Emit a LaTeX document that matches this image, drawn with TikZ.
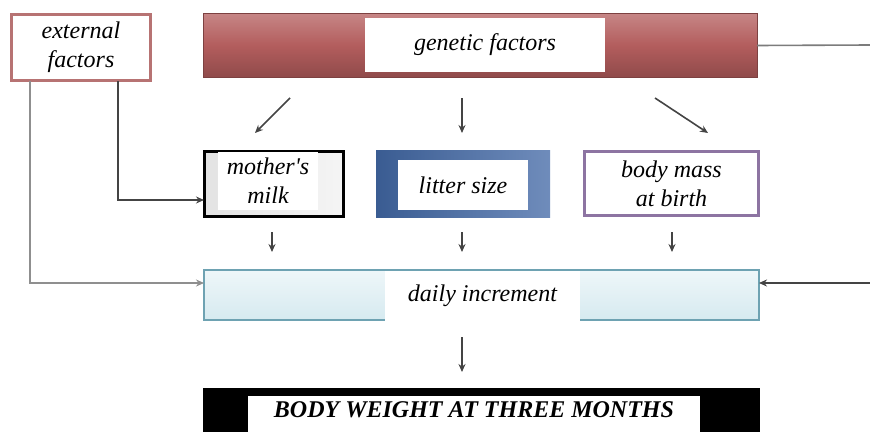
\documentclass[tikz,border=0pt]{standalone}
\usepackage{fontspec}
\setmainfont{Liberation Serif}
\usetikzlibrary{arrows.meta,positioning,calc}

\definecolor{genred}{HTML}{B35D5D}
\definecolor{extred}{HTML}{B77373}
\definecolor{litblue}{HTML}{3A5C92}
\definecolor{litbluelt}{HTML}{6F8CBB}
\definecolor{masspurple}{HTML}{8D74A2}
\definecolor{dailyteal}{HTML}{6EA2B2}
\definecolor{dailyfill}{HTML}{D6EAF0}
\definecolor{linkgray}{HTML}{444444}

\tikzset{
  factor/.style={inner sep=0pt, outer sep=0pt, align=center,
    font=\fontsize{24}{29}\selectfont\itshape},
  panel/.style={factor, fill=white},
  link/.style={draw=linkgray, line width=1.6pt,
    -{Stealth[length=8pt,width=7pt]}},
  plainlink/.style={draw=linkgray!70, line width=1.6pt}
}

\begin{document}
\begin{tikzpicture}[x=1pt,y=-1pt]
  \clip (0,0) rectangle (870,431);
  \fill[white] (0,0) rectangle (870,431);

  % top row
  \node[factor, draw=extred, line width=3.5pt, fill=white,
    minimum width=139, minimum height=66] (ext) at (81,47.5) {external\\factors};
  \node[factor, draw=genred!70!black, line width=1pt, top color=genred!75!white,
    bottom color=genred!80!black, middle color=genred,
    minimum width=554, minimum height=64] (gen) at (480,45.5) {};
  \node[panel, minimum width=240, minimum height=54] (genin) at (485,45) {genetic factors};

  % middle row
  \node[factor, draw=black, line width=3pt, left color=gray!22, right color=gray!8,
    minimum width=139, minimum height=65] (milk) at (273.5,183.5) {};
  \node[panel, minimum width=100, minimum height=58] (milkin) at (268,181) {mother\textquotesingle s\\milk};
  \node[factor, left color=litblue, right color=litbluelt,
    minimum width=174, minimum height=67] (litter) at (463,183.5) {};
  \node[panel, minimum width=130, minimum height=50] (litterin) at (463,185) {litter size};
  \node[factor, draw=masspurple, line width=3pt, fill=white,
    minimum width=174, minimum height=64] (mass) at (671.5,183.5) {body mass\\at birth};

  % daily increment
  \node[factor, draw=dailyteal, line width=2pt, top color=dailyfill!40,
    bottom color=dailyfill, minimum width=555, minimum height=50] (daily) at (481.5,294.5) {};
  \node[panel, minimum width=195, minimum height=50] (dailyin) at (482.5,296) {daily increment};

  % result
  \node[factor, fill=black, minimum width=557, minimum height=60] (weight) at (481.5,418) {};
  \node[panel, minimum width=452, minimum height=28, font=\fontsize{24}{29}\selectfont\bfseries\itshape]
    (weightin) at (474,410) {BODY WEIGHT AT THREE MONTHS};
  \fill[white] (weightin.south west) rectangle ++(452,10);

  % arrow ends
  \coordinate (ga1) at (290,98);  \coordinate (ga2) at (255,133);
  \coordinate (gb1) at (462,98);  \coordinate (gb2) at (462,133);
  \coordinate (gc1) at (655,98);  \coordinate (gc2) at (708,133);
  \coordinate (ma1) at (272,232); \coordinate (ma2) at (272,252);
  \coordinate (la1) at (462,232); \coordinate (la2) at (462,252);
  \coordinate (ba1) at (672,232); \coordinate (ba2) at (672,252);
  \coordinate (da1) at (462,337); \coordinate (da2) at (462,372);
  \coordinate (extl) at (30,81);  \coordinate (extr) at (118,81);
  \coordinate (rtop) at (870,45); \coordinate (rmid) at (870,283);

  \draw[link] (ga1) -- (ga2);
  \draw[link] (gb1) -- (gb2);
  \draw[link] (gc1) -- (gc2);
  \draw[link] (ma1) -- (ma2);
  \draw[link] (la1) -- (la2);
  \draw[link] (ba1) -- (ba2);
  \draw[link] (da1) -- (da2);

  \draw[link] (extr) |- ($(milk.west)+(0,16.5)$);
  \draw[link, draw=linkgray!60] (extl) |- ($(daily.west)+(0,-11.5)$);
  \draw[link] (rmid) -- (daily.east |- rmid);
  \draw[plainlink] (gen.east) -- (rtop);
\end{tikzpicture}
\end{document}
